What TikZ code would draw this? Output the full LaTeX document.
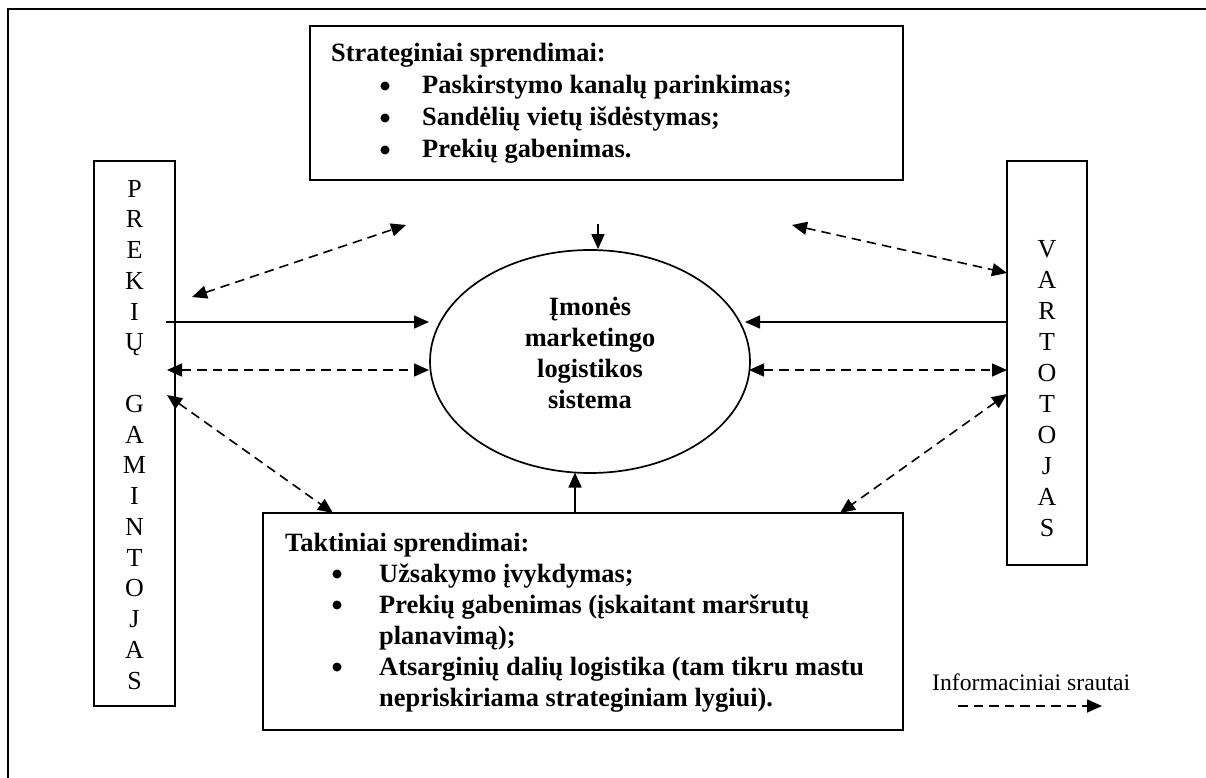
\documentclass[tikz,border=0pt]{standalone}
\usepackage{fontspec}
\setmainfont{Liberation Serif}
\usetikzlibrary{arrows.meta,shapes.geometric,calc}

\begin{document}
\begin{tikzpicture}[x=1pt,y=-1pt,
  box/.style={draw,line width=2pt,inner sep=0pt,outer sep=0pt},
  boldtxt/.style={font=\fontsize{26.4}{31}\selectfont\bfseries,inner sep=0pt,anchor=base west},
  ctrtxt/.style={font=\fontsize{26.4}{31}\selectfont\bfseries,inner sep=0pt,anchor=base},
  dot/.style={circle,fill,inner sep=0pt,minimum size=9pt},
  letter/.style={font=\fontsize{26}{31}\selectfont,inner sep=0pt,anchor=base},
  ah/.tip={Triangle[length=15pt,width=13pt]},
  flow/.style={line width=1.6pt,-ah},
  info/.style={line width=1.6pt,dash pattern=on 9.5pt off 6pt,ah-ah},
  infoone/.style={line width=1.6pt,dash pattern=on 9.5pt off 6pt,-ah}]

\useasboundingbox (0,0) rectangle (1206,778);

% page frame (open to the right and bottom)
\draw[line width=2.5pt] (8,778) -- (8,9) -- (1206,9);

% boxes
\node[box,minimum width=593pt,minimum height=154pt] (strat) at (606.5,103) {};
\node[box,minimum width=81pt,minimum height=545pt] (prek) at (134.5,433.5) {};
\node[box,minimum width=80pt,minimum height=404pt] (vart) at (1047,363) {};
\node[box,minimum width=640pt,minimum height=217pt] (takt) at (583,621.5) {};
\node[draw,ellipse,line width=1.7pt,minimum width=320pt,minimum height=223pt,inner sep=0pt] (sys) at (590,361.5) {};

% strategic decisions
\node[boldtxt] (s0) at (331,62) {Strateginiai sprendimai:};
\foreach \t/\yy [count=\i] in {Paskirstymo kanalų parinkimas;/94,Sandėlių vietų išdėstymas;/126,Prekių gabenimas./158}{
  \node[dot] (sb\i) at (385,\yy-8) {};
  \node[boldtxt] (s\i) at (422,\yy) {\t};
}

% tactical decisions
\node[boldtxt] (t0) at (285,551) {Taktiniai sprendimai:};
\node[dot] (tb1) at (337,574) {};
\node[boldtxt] (t1) at (379,582) {Užsakymo įvykdymas;};
\node[dot] (tb2) at (337,605) {};
\node[boldtxt] (t2) at (379,613) {Prekių gabenimas (įskaitant maršrutų};
\node[boldtxt] (t3) at (379,644) {planavimą);};
\node[dot] (tb3) at (337,667) {};
\node[boldtxt] (t4) at (379,675) {Atsarginių dalių logistika (tam tikru mastu};
\node[boldtxt] (t5) at (379,706) {nepriskiriama strateginiam lygiui).};

% central system
\node[ctrtxt] (c1) at (590,315) {Įmonės};
\node[ctrtxt] (c2) at (590,346) {marketingo};
\node[ctrtxt] (c3) at (590,377) {logistikos};
\node[ctrtxt] (c4) at (590,408) {sistema};

% vertical labels
\foreach \ch/\k in {P/0,R/1,E/2,K/3,I/4,Ų/5,G/7,A/8,M/9,I/10,N/11,T/12,O/13,J/14,A/15,S/16}
  \node[letter] (pg\k) at (134.5,197+30.75*\k) {\ch};
\foreach \ch/\k in {V/0,A/1,R/2,T/3,O/4,T/5,O/6,J/7,A/8,S/9}
  \node[letter] (va\k) at (1047,257+31*\k) {\ch};

% material flows
\coordinate (inL1) at (429,322);
\coordinate (inL2) at (429,370);
\coordinate (inR1) at (745,322);
\coordinate (inR2) at (749,370);
\coordinate (sysT) at ($(sys.north)+(8,0)$);
\coordinate (topin) at ($(sysT)+(0,-25)$);
\coordinate (sysB) at (575,472.5);
\draw[flow] ($(prek.east |- inL1)+(-9,0)$) -- (inL1);
\draw[flow] (vart.west |- inR1) -- (inR1);
\draw[flow] (topin) -- (sysT);
\draw[flow] (takt.north -| sysB) -- (sysB);

% information flows
\draw[info] ($(prek.east |- inL2)+(-8,0)$) -- (inL2);
\draw[info] (inR2) -- (vart.west |- inR2);
\coordinate (d1a) at (192,297);
\coordinate (d1b) at (406,225);
\coordinate (d2a) at (792,225);
\coordinate (d3a) at (167,395);
\draw[info] (d1a) -- (d1b);
\draw[info] (d2a) -- (vart.west |- 0,273);
\draw[info] (d3a) -- (takt.north -| 333,0);
\draw[info] (vart.west |- 0,394) -- (takt.north -| 840,0);

% legend
\node[font=\fontsize{23.7}{28}\selectfont,inner sep=0pt,anchor=base west] (legtxt) at (932,690) {Informaciniai srautai};
\coordinate (legA) at (958,706);
\coordinate (legB) at (1102,706);
\draw[infoone] (legA) -- (legB);
\end{tikzpicture}
\end{document}
